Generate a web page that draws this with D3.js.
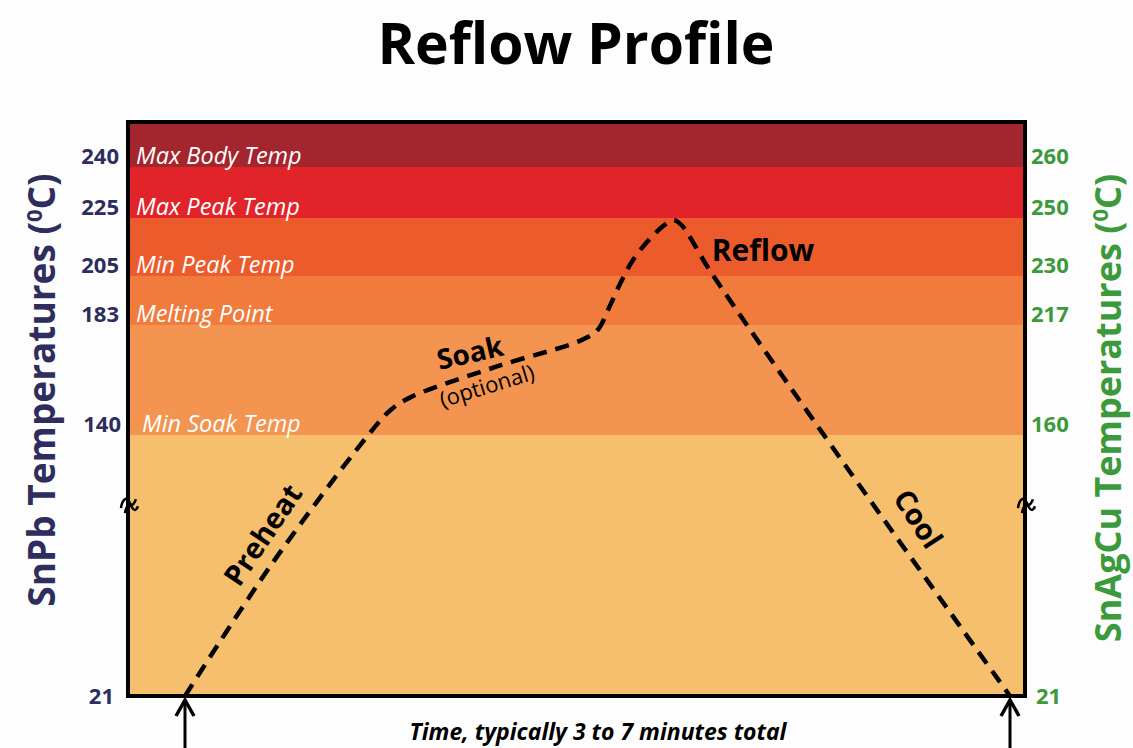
<!DOCTYPE html>
<html>
<head>
<meta charset="utf-8">
<script src="https://cdn.jsdelivr.net/npm/d3@7"></script>
<style>
  body { margin: 0; background: #fdfdfd; }
  svg { display: block; font-family: "Open Sans", "Noto Sans", sans-serif; }
</style>
</head>
<body>
<script>
// temperature marks (SnPb on the left, SnAgCu on the right)
var snpbTicks   = [240, 225, 205, 183, 140, 21];
var snagcuTicks = [260, 250, 230, 217, 160, 21];
var bandNames   = ['Max Body Temp', 'Max Peak Temp', 'Min Peak Temp', 'Melting Point', 'Min Soak Temp'];
var bandTop     = [253, 240, 225, 205, 183, 140];
var bandBottom  = [240, 225, 205, 183, 140, 21];
var axisBreak   = 108;

// the profile, time in % of total, temp in SnPb degrees
var profileTime = [0, 10.3, 22, 25, 27.5, 38, 48, 50, 51.3, 52.8, 54.3, 56.4, 58.3, 59.2, 60.2, 63.6, 77, 100];
var profileTemp = [21, 80, 139, 150, 155, 167, 177, 181, 190, 202, 210.5, 218, 223, 224.3, 222.5, 207, 142, 21];

var stages = ['Preheat', 'Soak', 'Reflow', 'Cool'];

var width  = 1133;
var height = 748;
var plot = {left: 128, top: 122, right: 1025, bottom: 696};

// the chart is schematic, each band gets its own stretch of the axis
var yStops = [574, 313, 203, 154, 96, 45, 0];
var yScale = d3.scaleLinear()
	.domain([21, 140, 183, 205, 225, 240, 253])
	.range(yStops.map(function(d) { return plot.top + d; }));

var yScaleR = d3.scaleLinear()
	.domain([21, 160, 217, 230, 250, 260, 270])
	.range(yStops.map(function(d) { return plot.top + d; }));

var xScale = d3.scaleLinear()
	.domain([0, 100])
	.range([185, 1010]);

var bandColor = d3.scaleOrdinal()
	.domain(d3.range(6))
	.range(['#a3262e', '#e1242a', '#ec5b2c', '#f07b3c', '#f39450', '#f6bf6d']);

var svg = d3.select('body').append('svg')
	.attr('width', width)
	.attr('height', height);

svg.append('text')
	.attr('x', 576)
	.attr('y', 64)
	.attr('text-anchor', 'middle')
	.style('font-size', '57px')
	.style('font-weight', 'bold')
	.text('Reflow Profile');

// bands
svg.selectAll('rect.band')
	.data(d3.range(bandTop.length))
	.enter().append('rect')
		.classed('band', true)
		.attr('x', plot.left)
		.attr('width', plot.right - plot.left)
		.attr('y', function(i) { return yScale(bandTop[i]); })
		.attr('height', function(i) { return yScale(bandBottom[i]) - yScale(bandTop[i]); })
		.style('fill', function(i) { return bandColor(i); });

svg.selectAll('text.band-name')
	.data(bandNames)
	.enter().append('text')
		.classed('band-name', true)
		.attr('x', function(d, i) { return i == 4 ? 142 : 136; })
		.attr('y', function(d, i) { return yScale(bandBottom[i]) - 11; })
		.attr('dy', '0.35em')
		.style('fill', '#fff')
		.style('font-style', 'italic')
		.style('font-size', '23.5px')
		.text(function(d) { return d; });

// dashed profile
var line = d3.line()
	.x(function(d) { return xScale(d[0]); })
	.y(function(d) { return yScale(d[1]); })
	.curve(d3.curveCatmullRom.alpha(0.5));

svg.append('path')
	.datum(d3.zip(profileTime, profileTemp))
	.attr('d', line)
	.style('fill', 'none')
	.style('stroke', '#000')
	.style('stroke-width', 4.5)
	.style('stroke-dasharray', '14,9');

// frame
svg.append('rect')
	.attr('x', plot.left)
	.attr('y', plot.top)
	.attr('width', plot.right - plot.left)
	.attr('height', plot.bottom - plot.top)
	.style('fill', 'none')
	.style('stroke', '#000')
	.style('stroke-width', 4);

// axis break marks
[plot.left, plot.right].forEach(function(x) {
	var g = svg.append('g').attr('transform', 'translate(' + x + ',' + yScale(axisBreak) + ')');
	g.append('path')
		.attr('d', 'M-7,3 C-6,-6 -1,-9 1,-4 C3,1 5,1 8,-6')
		.style('fill', 'none').style('stroke', '#000').style('stroke-width', 2.5);
	g.append('path')
		.attr('d', 'M-3,8 C-2,0 2,-2 4,2 C6,6 8,6 10,1')
		.style('fill', 'none').style('stroke', '#000').style('stroke-width', 2.5);
});

// axes
var leftAxis = svg.append('g')
	.attr('transform', 'translate(' + (plot.left - 9) + ',0)')
	.call(d3.axisLeft(yScale).tickValues(snpbTicks).tickSize(0).tickPadding(0).tickFormat(d3.format('d')));
leftAxis.select('.domain').remove();
leftAxis.selectAll('text')
	.attr('y', function(d) { return d == 21 ? 0 : -11; })
	.attr('x', function(d) { return d == 140 ? 2 : (d == 21 ? -5 : 0); })
	.style('fill', '#2e2d5e')
	.style('font-family', '"Open Sans", sans-serif')
	.style('font-weight', 'bold')
	.style('font-size', '22px');

var rightAxis = svg.append('g')
	.attr('transform', 'translate(' + (plot.right + 6) + ',0)')
	.call(d3.axisRight(yScaleR).tickValues(snagcuTicks).tickSize(0).tickPadding(0).tickFormat(d3.format('d')));
rightAxis.select('.domain').remove();
rightAxis.selectAll('text')
	.attr('y', function(d) { return d == 21 ? 0 : -11; })
	.attr('x', function(d) { return d == 21 ? 5 : 0; })
	.style('fill', '#3b9a3b')
	.style('font-family', '"Open Sans", sans-serif')
	.style('font-weight', 'bold')
	.style('font-size', '22px');

function axisTitle(x, y, label, color, size) {
	var t = svg.append('text')
		.attr('transform', 'translate(' + x + ',' + y + ') rotate(-90)')
		.attr('text-anchor', 'middle')
		.style('fill', color)
		.style('font-size', size + 'px')
		.style('font-weight', 'bold');
	t.append('tspan').text(label + ' (');
	t.append('tspan').attr('dy', -13).style('font-size', '22px').text('0');
	t.append('tspan').attr('dy', 13).text('C)');
}
axisTitle(55, 390, 'SnPb Temperatures', '#2e2d5e', 37);
axisTitle(1121, 408, 'SnAgCu Temperatures', '#3b9a3b', 36);

// stage labels
var stageLabels = [
	{text: stages[0], x: 263, y: 535, rot: -56, size: 29, weight: 'bold'},
	{text: stages[1], x: 470, y: 353, rot: -13, size: 28, weight: 'bold'},
	{text: '(optional)', x: 487, y: 386, rot: -17, size: 22, weight: 'normal'},
	{text: stages[2], x: 763, y: 250, rot: 0, size: 30, weight: 'bold'},
	{text: stages[3], x: 918, y: 519, rot: 57, size: 29, weight: 'bold'}
];
svg.selectAll('text.stage')
	.data(stageLabels)
	.enter().append('text')
		.classed('stage', true)
		.attr('transform', function(d) { return 'translate(' + d.x + ',' + d.y + ') rotate(' + d.rot + ')'; })
		.attr('text-anchor', 'middle')
		.attr('dy', '0.35em')
		.style('font-size', function(d) { return d.size + 'px'; })
		.style('font-weight', function(d) { return d.weight; })
		.text(function(d) { return d.text; });

// time arrows
[0, 100].forEach(function(t) {
	var x = xScale(t);
	svg.append('line')
		.attr('x1', x).attr('x2', x)
		.attr('y1', height).attr('y2', plot.bottom + 4)
		.style('stroke', '#000').style('stroke-width', 3);
	svg.append('path')
		.attr('d', 'M' + (x - 9) + ',' + (plot.bottom + 20) + 'L' + x + ',' + (plot.bottom + 4) + 'L' + (x + 9) + ',' + (plot.bottom + 20))
		.style('fill', 'none').style('stroke', '#000').style('stroke-width', 3.5);
});

svg.append('text')
	.attr('x', 598)
	.attr('y', 740)
	.attr('text-anchor', 'middle')
	.style('font-size', '23px')
	.style('font-weight', 'bold')
	.style('font-style', 'italic')
	.text('Time, typically 3 to 7 minutes total');
</script>
</body>
</html>
